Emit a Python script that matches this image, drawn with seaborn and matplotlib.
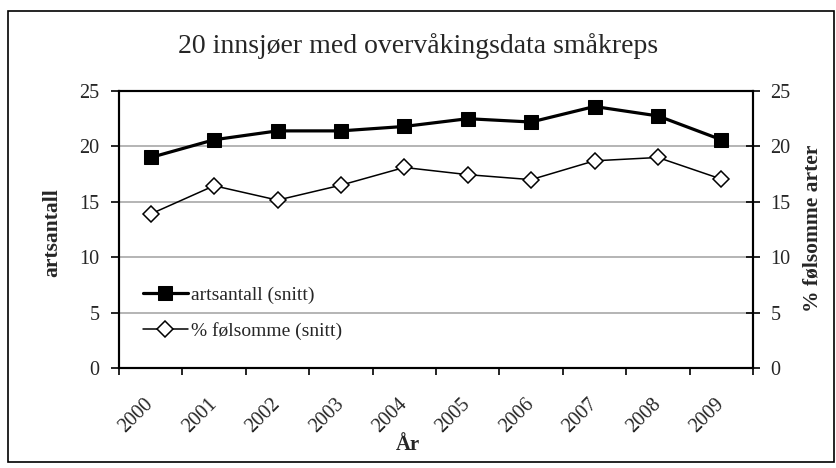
import seaborn as sns
import matplotlib.pyplot as plt
import pandas as pd
from matplotlib.patches import Rectangle

years = ['2000', '2001', '2002', '2003', '2004', '2005', '2006', '2007', '2008', '2009']
artsantall = [19.0, 20.6, 21.4, 21.4, 21.8, 22.5, 22.2, 23.6, 22.75, 20.6]
folsomme = [13.9, 16.45, 15.15, 16.5, 18.1, 17.45, 17.0, 18.7, 19.0, 17.05]

sns.set_theme(style='white')
plt.rcParams['font.family'] = ['Liberation Serif', 'DejaVu Serif']

df = pd.DataFrame({'pos': range(len(years)), 'aar': years,
                   'artsantall': artsantall, 'folsomme': folsomme})

W, H = 836, 468
fig = plt.figure(figsize=(W / 100, H / 100), dpi=100)
left, right, top, bottom = 119, 753, 91, 368
ax = fig.add_axes([left / W, 1 - bottom / H, (right - left) / W, (bottom - top) / H])

sns.lineplot(data=df, x='pos', y='artsantall', ax=ax, color='black', lw=2.3,
             marker='s', markersize=10, markerfacecolor='black', markeredgecolor='black',
             label='artsantall (snitt)')
sns.lineplot(data=df, x='pos', y='folsomme', ax=ax, color='black', lw=1.1,
             marker='D', markersize=8, markerfacecolor='white', markeredgecolor='black',
             markeredgewidth=1.1, label='% følsomme (snitt)')

ax.set_xlim(-0.5, len(years) - 0.5)
ax.set_ylim(0, 25)
ax.set_yticks(range(0, 26, 5))
ax.yaxis.grid(True, color='#a0a0a0', lw=1.1)
ax.set_axisbelow(True)

# tick marks between categories, labels at the centres
ax.set_xticks([i - 0.5 for i in range(len(years) + 1)])
ax.set_xticklabels([])
ax.set_xticks(range(len(years)), minor=True)
ax.set_xticklabels(years, minor=True, rotation=45, ha='right', va='center',
                   rotation_mode='anchor', fontsize=14.5)
ax.tick_params(axis='x', which='major', direction='out', length=5, width=1.2, color='black', bottom=True)
ax.tick_params(axis='x', which='minor', length=0, pad=24, bottom=True)
ax.tick_params(axis='y', direction='out', length=6, width=1.2, color='black', labelsize=14.5, pad=8, left=True)

for s in ax.spines.values():
    s.set_color('black')
    s.set_linewidth(1.5)

ax.set_xlabel('')
ax.set_ylabel('')

ax2 = ax.twinx()
ax2.set_ylim(0, 25)
ax2.set_yticks(range(0, 26, 5))
ax2.tick_params(axis='y', direction='inout', length=10, width=1.2, color='black', labelsize=14.5, pad=7.5, right=True)
for s in ax2.spines.values():
    s.set_color('black')
    s.set_linewidth(1.5)

ax.legend(loc='upper left', bbox_to_anchor=(143 / W, 1 - 286 / H), bbox_transform=fig.transFigure,
          frameon=False, fontsize=14, handlelength=2.3, handletextpad=0.15,
          labelspacing=0.95, borderpad=0, borderaxespad=0)

fig.text(0.5, 1 - 53 / H, '20 innsjøer med overvåkingsdata småkreps', ha='center', va='baseline', fontsize=20)
fig.text(408 / W, 1 - 445 / H, 'År', ha='center', va='center', fontsize=15, fontweight='bold')
fig.text(52 / W, 1 - 233 / H, 'artsantall', rotation=90, ha='center', va='center', fontsize=15.5, fontweight='bold')
fig.text(813 / W, 1 - 228 / H, '% følsomme arter', rotation=90, ha='center', va='center', fontsize=15.5, fontweight='bold')

fig.patches.append(Rectangle((8 / W, 6 / H), (834 - 8) / W, (457 - 6) / H, transform=fig.transFigure,
                             fill=False, edgecolor='black', lw=1.2))

fig.savefig('out.png', dpi=100)
